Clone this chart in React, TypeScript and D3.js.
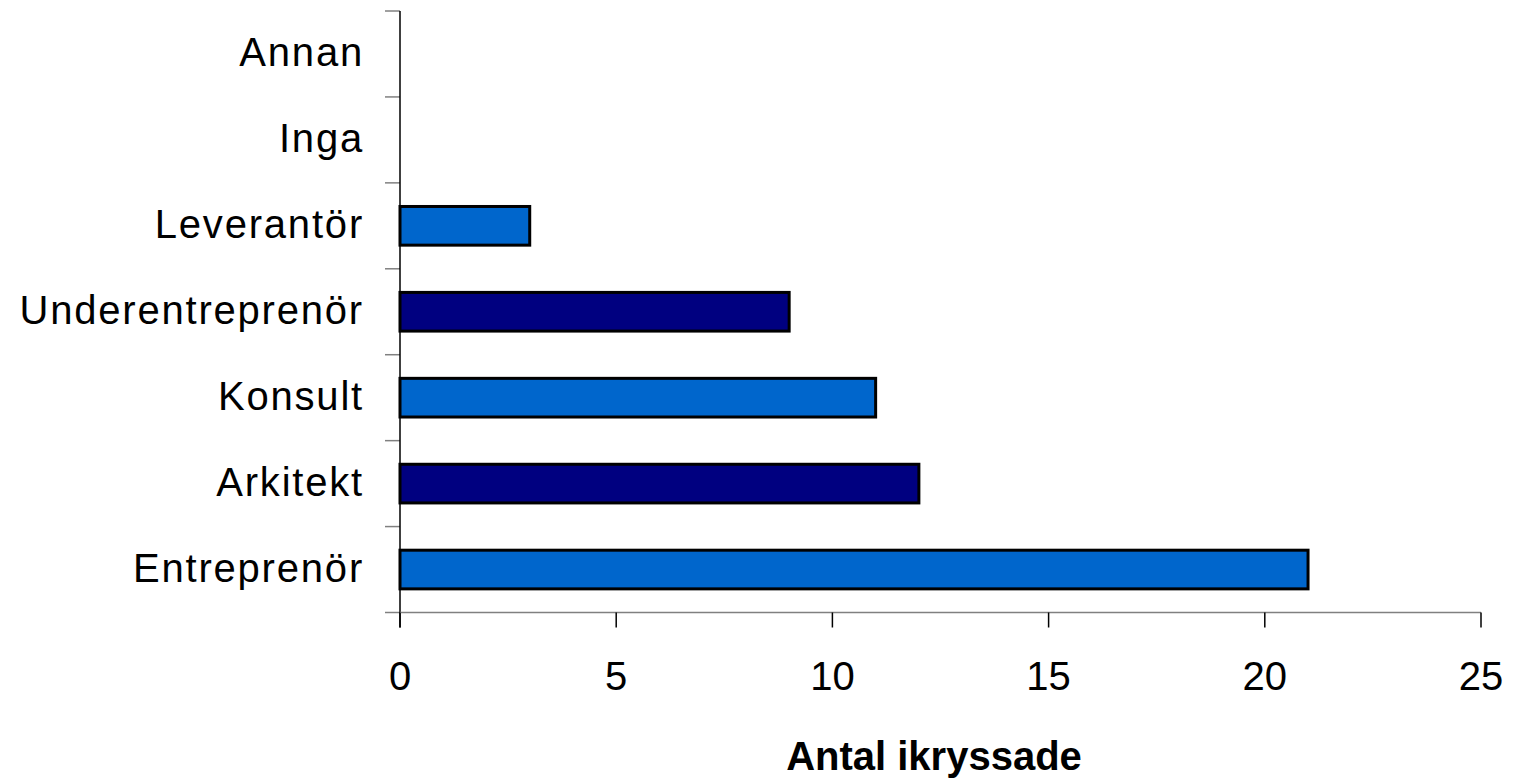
import { scaleBand, scaleLinear } from 'd3';

// values, bottom category first
const categories = ['Entreprenör', 'Arkitekt', 'Konsult', 'Underentreprenör', 'Leverantör', 'Inga', 'Annan'];
const counts = [21, 12, 11, 9, 3, 0, 0];
const xTicks = [0, 5, 10, 15, 20, 25];
const xTitle = 'Antal ikryssade';

const LIGHT = '#0066CC';
const DARK = '#000080';

export default function App() {
    const width = 1513;
    const height = 779;
    const left = 400;
    const right = 1481;
    const top = 11;
    const bottom = 612.5;
    const font = '"Liberation Sans", Arial, sans-serif';

    const scaleX = scaleLinear().domain([0, 25]).range([left, right]);

    // top category (last in list) sits at the top
    const scaleY = scaleBand<string>()
        .domain([...categories].reverse())
        .range([top, bottom])
        .paddingInner(0.55)
        .paddingOuter(0.275);

    const step = scaleY.step();
    const boundaries = categories.map((_, i) => top + i * step).concat([bottom]);

    return (
        <svg
            width={width}
            height={height}
            style={{ position: 'absolute', left: 0, top: 0, background: '#fff' }}
        >
            {/* bars */}
            {categories.map((c, i) =>
                counts[i] > 0 ? (
                    <rect
                        key={c}
                        x={scaleX(0)}
                        y={scaleY(c)}
                        width={scaleX(counts[i]) - scaleX(0)}
                        height={scaleY.bandwidth()}
                        fill={i % 2 === 0 ? LIGHT : DARK}
                        stroke='#000'
                        strokeWidth={3}
                    />
                ) : null
            )}

            {/* category axis */}
            {boundaries.map((y, i) => (
                <line key={`yt-${i}`} x1={left - 15} x2={left} y1={y} y2={y} stroke='#808080' strokeWidth={1.5} />
            ))}
            <line x1={left} x2={left} y1={top} y2={bottom + 15} stroke='#000' strokeWidth={1.5} />
            {categories.map((c) => (
                <text
                    key={`yl-${c}`}
                    x={left - 36}
                    y={(scaleY(c) ?? 0) + scaleY.bandwidth() / 2 + 12}
                    textAnchor='end'
                    style={{ fontSize: '40px', fontFamily: font, letterSpacing: '1.8px' }}
                >
                    {c}
                </text>
            ))}

            {/* value axis */}
            <line x1={left} x2={right} y1={bottom} y2={bottom} stroke='#808080' strokeWidth={1.5} />
            {xTicks.map((t) => (
                <g key={`xt-${t}`}>
                    <line x1={scaleX(t)} x2={scaleX(t)} y1={bottom} y2={bottom + 15} stroke='#000' strokeWidth={1.5} />
                    <text
                        x={scaleX(t)}
                        y={690}
                        textAnchor='middle'
                        style={{ fontSize: '40px', fontFamily: font }}
                    >
                        {t}
                    </text>
                </g>
            ))}
            <text
                x={934}
                y={770}
                textAnchor='middle'
                style={{ fontSize: '40px', fontWeight: 'bold', fontFamily: font }}
            >
                {xTitle}
            </text>
        </svg>
    );
}
